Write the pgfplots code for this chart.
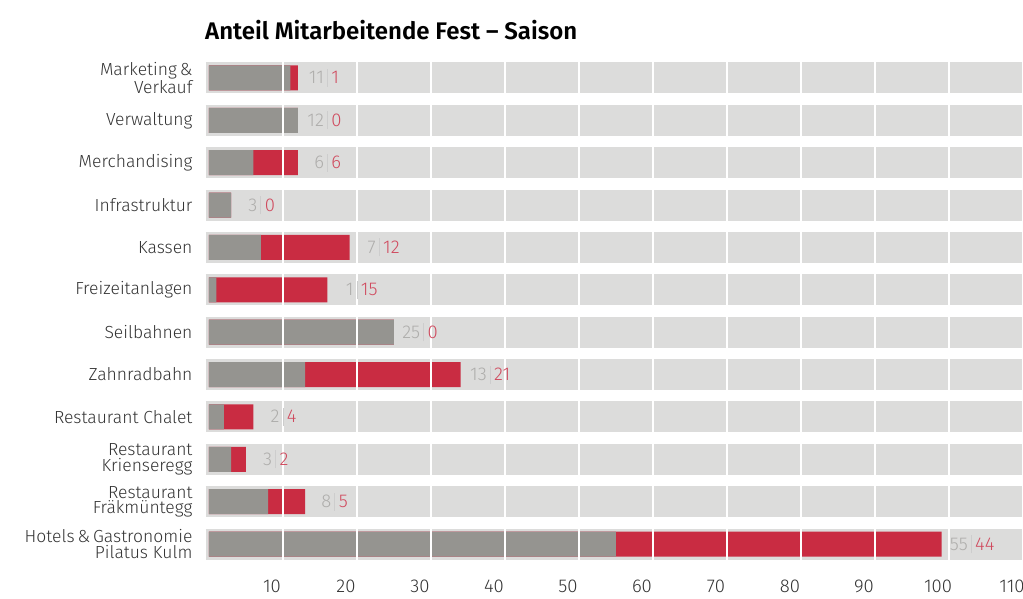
\documentclass[border=0pt]{standalone}
\usepackage{pgfplots}
\usepackage{pgfplotstable}
\pgfplotsset{compat=1.18}
\usepackage{fontspec}
\setmainfont{Fira Sans}[UprightFont=* Light, BoldFont=* SemiBold]
\definecolor{band}{HTML}{DCDCDB}
\definecolor{graybar}{HTML}{959490}
\definecolor{redbar}{HTML}{C92C42}
\definecolor{numgray}{HTML}{AEADAB}
\definecolor{numred}{HTML}{D04A5E}
\definecolor{sepc}{HTML}{CDCDCD}
\definecolor{lbl}{HTML}{333333}

\pgfplotstableread{
y g r t
0 11 1 12
1 12 0 12
2 6 6 12
3 3 0 3
4 7 12 19
5 1 15 16
6 25 0 25
7 13 21 34
8 2 4 6
9 3 2 5
10 8 5 13
11 55 44 99
}\datatable

\pgfplotstableread{
x y
-0.4 0
110 0
nan nan
-0.4 1
110 1
nan nan
-0.4 2
110 2
nan nan
-0.4 3
110 3
nan nan
-0.4 4
110 4
nan nan
-0.4 5
110 5
nan nan
-0.4 6
110 6
nan nan
-0.4 7
110 7
nan nan
-0.4 8
110 8
nan nan
-0.4 9
110 9
nan nan
-0.4 10
110 10
nan nan
-0.4 11
110 11
}\bandtable

\begin{document}
\begin{tikzpicture}
\useasboundingbox (-206pt,-38pt) rectangle (817pt,561pt);
\begin{axis}[
  at={(0pt,0pt)}, anchor=south west,
  scale only axis, width=817pt, height=500pt,
  xmin=-0.4, xmax=110, ymin=-0.4, ymax=11.4,
  y dir=reverse,
  axis on top,
  axis line style={draw=none},
  major tick length=0pt,
  unbounded coords=jump,
  xtick={10,20,...,110},
  xmajorgrids, major grid style={white, line width=1.6pt},
  ytick={0,...,11},
  yticklabels={{Marketing\,\&\\Verkauf},Verwaltung,Merchandising,Infrastruktur,Kassen,Freizeitanlagen,Seilbahnen,Zahnradbahn,Restaurant Chalet,{Restaurant\\Krienseregg},{Restaurant\\Fräkmüntegg},{Hotels\,\&\,Gastronomie\\Pilatus Kulm}},
  yticklabel style={align=right, font=\fontsize{17.5}{15.5}\selectfont, text=lbl, xshift=-10pt},
  xticklabel style={font=\fontsize{18.5}{18}\selectfont, text=lbl, xshift=-11pt, yshift=-15pt},
  /pgf/number format/assume math mode=true,
  title={\bfseries Anteil Mitarbeitende Fest – Saison},
  title style={at={(axis description cs:0,1)}, anchor=base west, inner sep=0pt, xshift=-1pt, yshift=15pt, font=\fontsize{24}{24}\selectfont, text=black},
  clip=false,
]
\addplot[draw=band, line width=31pt, line cap=butt] table[x=x, y=y] {\bandtable};
\addplot[xbar, bar width=25pt, bar shift=0pt, fill=redbar, draw=none] table[x=t, y=y] {\datatable};
\addplot[xbar, bar width=25pt, bar shift=0pt, fill=graybar, draw=none] table[x=g, y=y] {\datatable};
\addplot[draw=none, mark=none,
  visualization depends on={\thisrow{g} \as \gv},
  visualization depends on={\thisrow{r} \as \rv},
  nodes near coords={\makebox[22pt][r]{\textcolor{numgray}{\pgfmathprintnumber{\gv}}}\hspace{3pt}\textcolor{sepc}{\rule[-3pt]{0.9pt}{18pt}}\hspace{3.5pt}\textcolor{numred}{\pgfmathprintnumber{\rv}}},
  every node near coord/.append style={anchor=west, xshift=4pt, font=\fontsize{18.5}{16}\selectfont, inner sep=0pt},
] table[x=t, y=y] {\datatable};
\end{axis}
\end{tikzpicture}
\end{document}
